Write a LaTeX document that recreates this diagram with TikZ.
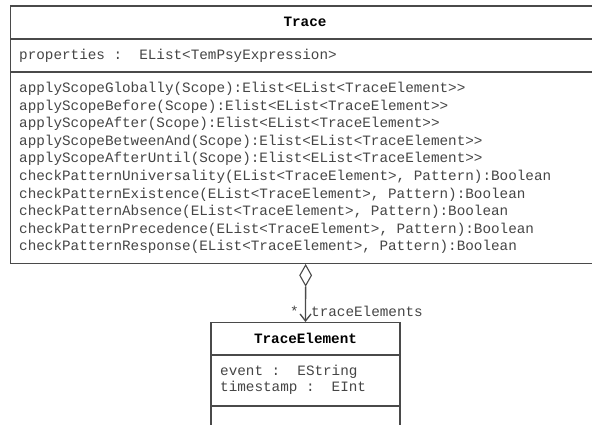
\documentclass[tikz,border=0pt]{standalone}
\usepackage{fontspec}
\setmonofont{Liberation Mono}
\usetikzlibrary{arrows.meta,shapes.geometric}
\definecolor{umlline}{HTML}{4A4A4A}
\definecolor{umltext}{HTML}{454545}
\tikzset{
  umlbox/.style={draw=umlline, line width=1.3pt, fill=white, inner sep=0pt},
  umlsep/.style={draw=umlline, line width=1.3pt},
  mono/.style={font=\fontsize{14.3}{17.55}\selectfont\ttfamily, text=umltext, inner sep=0pt},
  classtitle/.style={font=\fontsize{14.3}{15.5}\selectfont\ttfamily\bfseries, text=black, inner sep=0pt},
  aggdiamond/.style={diamond, draw=umlline, line width=1.1pt, fill=white, inner sep=0pt,
                     minimum width=12pt, minimum height=21pt}
}
\begin{document}
\begin{tikzpicture}[x=1pt,y=-1pt]
  \useasboundingbox (0,0) rectangle (592,425);
  \clip (0,0) rectangle (592,425);

  % class Trace
  \node[umlbox, anchor=north west, minimum width=590pt, minimum height=257.5pt] (trace) at (10,5.5) {};
  \node[classtitle] (tracetitle) at (305,22) {Trace};
  \draw[umlsep] (10,39) -- (600,39);
  \node[mono, anchor=west] (traceattr) at (19,56) {properties :\ \ EList<TemPsyExpression>};
  \draw[umlsep] (10,72) -- (600,72);
  \node[mono, anchor=west, align=left] (traceops) at (19,168) {%
    applyScopeGlobally(Scope):Elist<EList<TraceElement>{}>\\
    applyScopeBefore(Scope):Elist<EList<TraceElement>{}>\\
    applyScopeAfter(Scope):Elist<EList<TraceElement>{}>\\
    applyScopeBetweenAnd(Scope):Elist<EList<TraceElement>{}>\\
    applyScopeAfterUntil(Scope):Elist<EList<TraceElement>{}>\\
    checkPatternUniversality(EList<TraceElement>, Pattern):Boolean\\
    checkPatternExistence(EList<TraceElement>, Pattern):Boolean\\
    checkPatternAbsence(EList<TraceElement>, Pattern):Boolean\\
    checkPatternPrecedence(EList<TraceElement>, Pattern):Boolean\\
    checkPatternResponse(EList<TraceElement>, Pattern):Boolean};

  % class TraceElement
  \node[umlbox, anchor=north, minimum width=189pt, minimum height=120pt] (elem) at (305.5,322) {};
  \node[classtitle] (elemtitle) at (305.5,338) {TraceElement};
  \draw[umlsep] (211,355) -- (400,355);
  \node[mono, anchor=west, align=left, font=\fontsize{14.3}{15.5}\selectfont\ttfamily] (elemattr) at (220,380) {%
    event :\ \ EString\\
    timestamp :\ \ EInt};
  \draw[umlsep] (211,406) -- (400,406);

  % aggregation Trace -> TraceElement
  \node[aggdiamond, anchor=north] (agg) at (trace.south) {};
  \draw[umlsep, -{Straight Barb[length=7pt,width=11pt]}] (agg.south) -- (elem.north);
  \node[mono, anchor=base east] (mult) at (299,316) {*};
  \node[mono, anchor=base west] (role) at (311,316) {traceElements};
\end{tikzpicture}
\end{document}
